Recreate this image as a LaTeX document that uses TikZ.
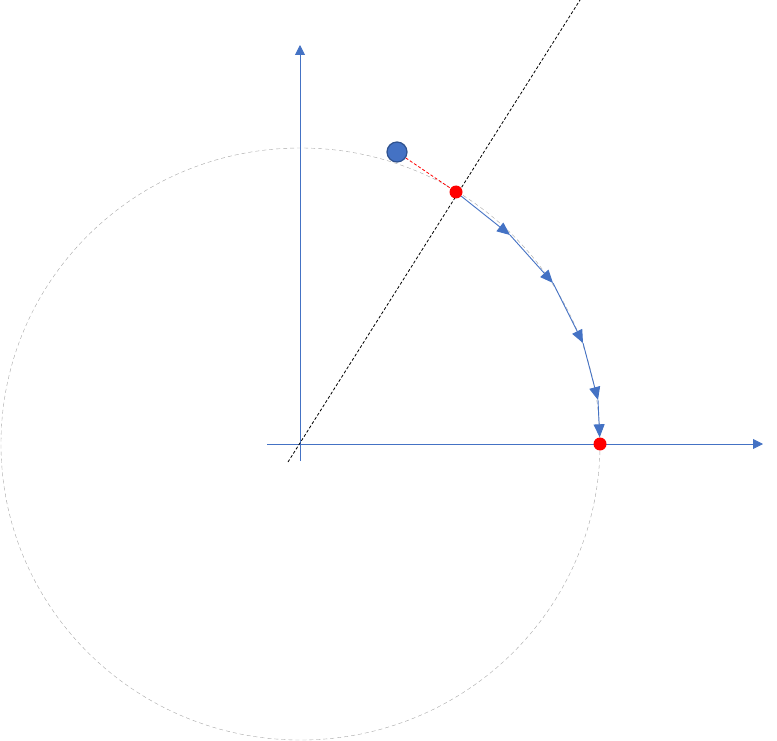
\documentclass[tikz,border=0pt]{standalone}
\usetikzlibrary{arrows.meta}
\definecolor{axisblue}{HTML}{4472C4}
\definecolor{ballborder}{HTML}{2F528F}
\definecolor{ringgray}{HTML}{A6A6A6}
\tikzset{
  axisline/.style={draw=axisblue, line width=0.9pt, -{Triangle[width=10pt,length=10pt]}},
  stepline/.style={draw=axisblue, line width=0.9pt, -{Triangle[width=11pt,length=13pt]}},
  reddot/.style={circle, fill=red, inner sep=0pt, minimum size=13pt},
  ball/.style={circle, fill=axisblue, draw=ballborder, line width=1.2pt, inner sep=0pt, minimum size=20pt},
}
\begin{document}
\begin{tikzpicture}[x=1pt,y=1pt,yscale=-1,xscale=1]
  \useasboundingbox (0,0) rectangle (777,741);
  % unit circle and axes
  \draw[ringgray, dash pattern=on 4pt off 3pt] (300.5,444) ellipse [x radius=299.5, y radius=296];
  \draw[axisline] (267,444) -- (763,444);
  \draw[axisline] (300,461) -- (300,45);
  \draw[black, dash pattern=on 3pt off 2pt, line width=0.8pt] (288,462) -- (580,0);
  % steps along the arc
  \coordinate (s1) at (510,235);
  \coordinate (s2) at (553,283);
  \coordinate (s3) at (583,343);
  \coordinate (s4) at (598,400);
  \node[reddot] (start) at (456,192) {};
  \node[reddot] (goal) at (600,444) {};
  \node[ball] (ball) at (397,152) {};
  \draw[red, dash pattern=on 3pt off 2pt, line width=0.8pt] (ball) -- (start);
  \draw[stepline] (start) -- (s1);
  \draw[stepline] (s1) -- (s2);
  \draw[stepline] (s2) -- (s3);
  \draw[stepline] (s3) -- (s4);
  \draw[stepline] (s4) -- (goal);
\end{tikzpicture}
\end{document}
